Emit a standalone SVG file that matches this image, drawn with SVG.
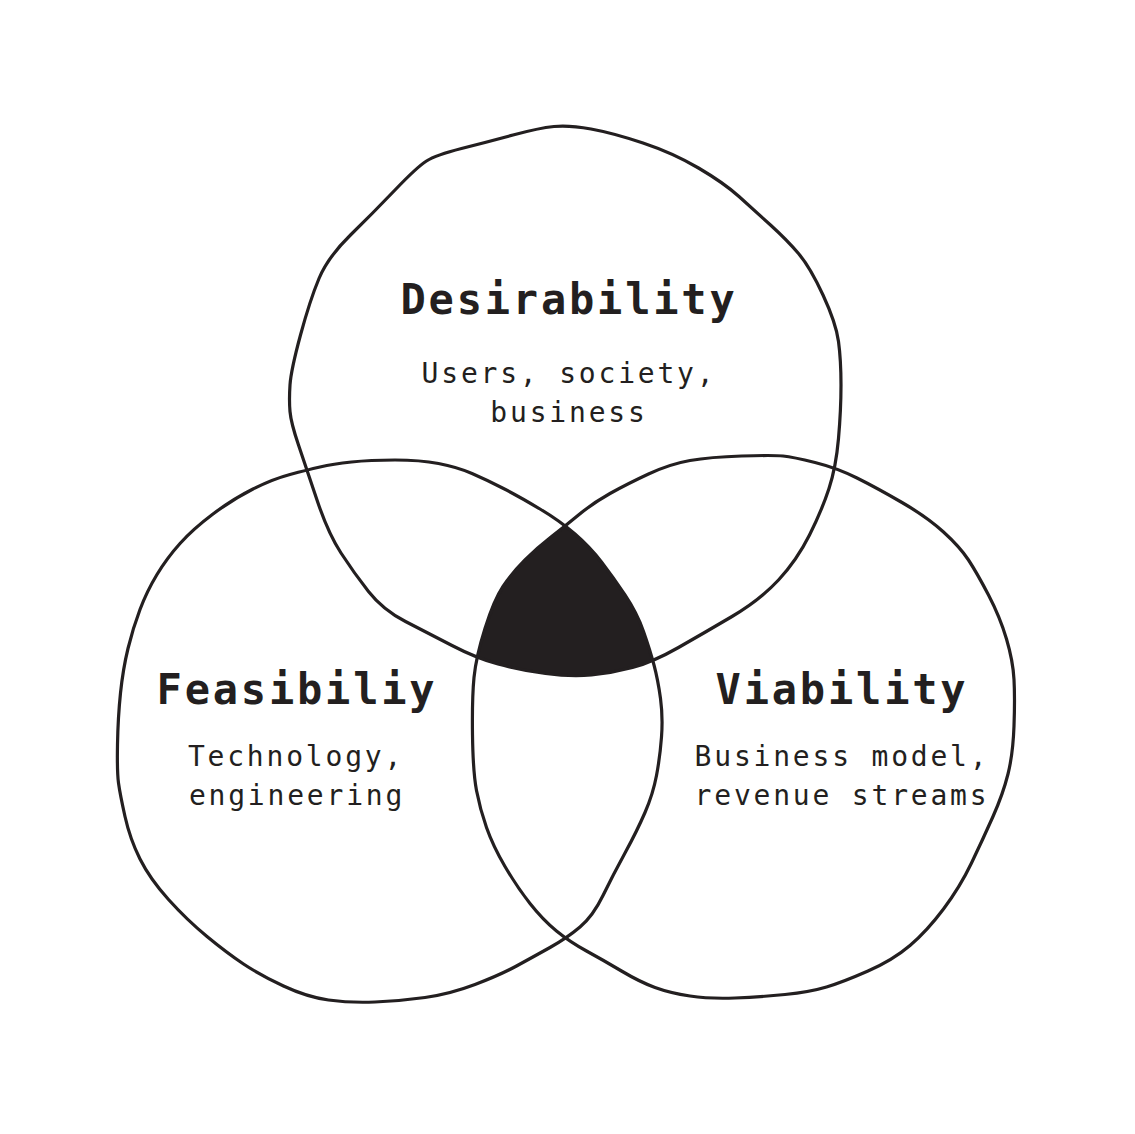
<svg xmlns="http://www.w3.org/2000/svg" xmlns:xlink="http://www.w3.org/1999/xlink" width="1135" height="1134" viewBox="0 0 1135 1134">
<style>
.ring{fill:none;stroke:#231f20;stroke-width:3.2;stroke-linejoin:round}
.title{font-family:"DejaVu Sans Mono","Liberation Mono",monospace;font-weight:bold;font-size:42px;letter-spacing:2.8px;fill:#231f20;text-anchor:middle}
.sub{font-family:"DejaVu Sans Mono","Liberation Mono",monospace;font-size:28px;letter-spacing:2.8px;fill:#231f20;text-anchor:middle}
</style>
<defs>
<path id="pTop" d="M554,126.5 Q569,125 591,129 Q613,133 643,143 Q673,153 698.5,168 Q724,183 739,196.5 Q754,210 770.5,225 Q787,240 798.5,253.5 Q810,267 823,295 Q836,323 838.5,341.5 Q841,360 841,385 Q841,410 838.5,438.5 Q836,467 829,488.5 Q822,510 809.5,535 Q797,560 778.5,580 Q760,600 732,616.5 Q704,633 678.5,647.5 Q653,662 632.5,667.5 Q612,673 591.5,675 Q571,677 545.5,673.5 Q520,670 498,664 Q476,658 452,645.5 Q428,633 405.5,621.5 Q383,610 368.5,591.5 Q354,573 341,553 Q328,533 317,500 Q306,467 298.5,445 Q291,423 290,411.5 Q289,400 290,385 Q291,370 300.5,335 Q310,300 319,278.5 Q328,257 350.5,235 Q373,213 395,190 Q417,167 426.5,161 Q436,155 461.5,148.5 Q487,142 513,135 Q539,128 554,126.5 Z"/>
<path id="pLeft" d="M395,460 Q420,460 438.5,463.5 Q457,467 472,473.5 Q487,480 503.5,488.5 Q520,497 540,509 Q560,521 575,534 Q590,547 601.5,562 Q613,577 625,595 Q637,613 643.5,631.5 Q650,650 654,665 Q658,680 660.5,698.5 Q663,717 661.5,737 Q660,757 656.5,775.5 Q653,794 645,812.5 Q637,831 625,853 Q613,875 603,895.5 Q593,916 580,927 Q567,938 550,947.5 Q533,957 516.5,966 Q500,975 475,984.5 Q450,994 425,997.5 Q400,1001 375,1002 Q350,1003 328.5,1000 Q307,997 283.5,986 Q260,975 243.5,964 Q227,953 207,936.5 Q187,920 168.5,899.5 Q150,879 140,859 Q130,839 125,816.5 Q120,794 118.5,783 Q117,772 117.5,744.5 Q118,717 120.5,693 Q123,669 128,648.5 Q133,628 140,609.5 Q147,591 157,574.5 Q167,558 180,543.5 Q193,529 213,514 Q233,499 253,489 Q273,479 290,474.5 Q307,470 320,467 Q333,464 351.5,462 Q370,460 395,460 Z"/>
<path id="pRight" d="M741.5,456 Q773,455 783,456 Q793,457 815,462.5 Q837,468 857,478 Q877,488 902,502.5 Q927,517 943.5,532 Q960,547 968.5,560 Q977,573 988.5,595 Q1000,617 1006.5,639 Q1013,661 1014,679.5 Q1015,698 1014,726 Q1013,754 1008,774 Q1003,794 993,816.5 Q983,839 971.5,863 Q960,887 943.5,909 Q927,931 910,945.5 Q893,960 868,971 Q843,982 826.5,987 Q810,992 785,994.5 Q760,997 735,998 Q710,999 690,996 Q670,993 655,987.5 Q640,982 621.5,971 Q603,960 586.5,951 Q570,942 556.5,931 Q543,920 530,903.5 Q517,887 505,866.5 Q493,846 486.5,827.5 Q480,809 476.5,790.5 Q473,772 472.5,735 Q472,698 474,677.5 Q476,657 485,628.5 Q494,600 503,586.5 Q512,573 525,560 Q538,547 551,537 Q564,527 578.5,515 Q593,503 610,493.5 Q627,484 648.5,474 Q670,464 690,460.5 Q710,457 741.5,456 Z"/>
<clipPath id="clipLeft"><use xlink:href="#pLeft"/></clipPath>
<clipPath id="clipRight"><use xlink:href="#pRight"/></clipPath>
</defs>
<g id="intersection" clip-path="url(#clipLeft)">
<g clip-path="url(#clipRight)">
<use xlink:href="#pTop" fill="#231f20"/>
</g>
</g>
<g id="connectors"></g>
<g id="desirability">
<use xlink:href="#pTop" class="ring"/>
<text class="title" x="569" y="314">Desirability</text>
<text class="sub" x="569" y="383">Users, society,</text>
<text class="sub" x="569" y="422">business</text>
</g>
<g id="feasibility">
<use xlink:href="#pLeft" class="ring"/>
<text class="title" x="297" y="704">Feasibiliy</text>
<text class="sub" x="296" y="766">Technology,</text>
<text class="sub" x="297" y="805">engineering</text>
</g>
<g id="viability">
<use xlink:href="#pRight" class="ring"/>
<text class="title" x="842" y="704">Viability</text>
<text class="sub" x="842" y="766">Business model,</text>
<text class="sub" x="842" y="805">revenue streams</text>
</g>
</svg>
